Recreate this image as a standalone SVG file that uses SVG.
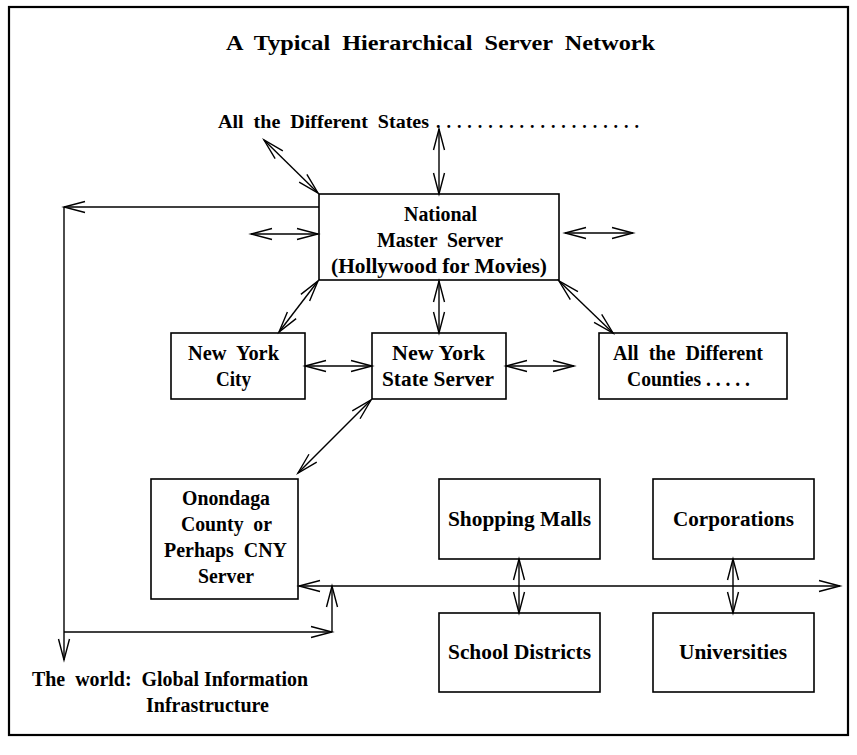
<svg xmlns="http://www.w3.org/2000/svg" width="857" height="755" viewBox="0 0 857 755">
<style>
text { font-family: "Liberation Serif", "Times New Roman", serif; font-weight: bold; fill: #000; white-space: pre; }
.t20 { font-size: 20px; }
.t18 { font-size: 18px; }
.box { fill: #fff; stroke: #000; stroke-width: 1.6; }
.c { fill: none; stroke: #000; stroke-width: 1.4; }
.a2 { marker-start: url(#ah); marker-end: url(#ah); }
.ae { marker-end: url(#ah); }
</style>
<defs>
<marker id="ah" markerUnits="userSpaceOnUse" markerWidth="30" markerHeight="20" refX="0" refY="0" viewBox="-25 -10 30 20" orient="auto-start-reverse" overflow="visible">
<path d="M-21,-5.5 L0,0 L-21,5.5" fill="none" stroke="#000" stroke-width="1.4"/>
</marker>
</defs>
<rect x="0" y="0" width="857" height="755" fill="#fff"/>
<rect id="frame" x="9" y="7" width="839" height="728" fill="none" stroke="#000" stroke-width="2.2"/>

<g id="title">
<text x="226" y="50" textLength="429" lengthAdjust="spacingAndGlyphs" style="font-size:21px" xml:space="preserve">A  Typical  Hierarchical  Server  Network</text>
</g>

<g id="states">
<text class="t18" x="218" y="128" textLength="211" lengthAdjust="spacingAndGlyphs" xml:space="preserve">All  the  Different  States</text>
<text class="t18" x="436" y="128" textLength="203" lengthAdjust="spacing">....................</text>
</g>

<g id="national">
<rect class="box" x="319" y="194" width="240" height="86"/>
<text class="t20" x="404" y="221" textLength="73" lengthAdjust="spacingAndGlyphs">National</text>
<text class="t20" x="377" y="247" textLength="126" lengthAdjust="spacingAndGlyphs" xml:space="preserve">Master  Server</text>
<text class="t20" x="331" y="273" textLength="216" lengthAdjust="spacingAndGlyphs">(Hollywood for Movies)</text>
</g>

<g id="nyc">
<rect class="box" x="171" y="333" width="134" height="66"/>
<text class="t20" x="188" y="360" textLength="91" lengthAdjust="spacingAndGlyphs" xml:space="preserve">New  York</text>
<text class="t20" x="216" y="386" textLength="35" lengthAdjust="spacingAndGlyphs">City</text>
</g>

<g id="nys">
<rect class="box" x="372" y="333" width="134" height="66"/>
<text class="t20" x="392" y="360" textLength="93" lengthAdjust="spacingAndGlyphs">New York</text>
<text class="t20" x="382" y="386" textLength="112" lengthAdjust="spacingAndGlyphs">State Server</text>
</g>

<g id="counties">
<rect class="box" x="599" y="333" width="188" height="66"/>
<text class="t20" x="613" y="360" textLength="150" lengthAdjust="spacingAndGlyphs" xml:space="preserve">All  the  Different</text>
<text class="t20" x="627" y="386" textLength="123" lengthAdjust="spacingAndGlyphs">Counties . . . . .</text>
</g>

<g id="onondaga">
<rect class="box" x="151" y="479" width="147" height="120"/>
<text class="t20" x="182" y="505" textLength="88" lengthAdjust="spacingAndGlyphs">Onondaga</text>
<text class="t20" x="181" y="531" textLength="91" lengthAdjust="spacingAndGlyphs" xml:space="preserve">County  or</text>
<text class="t20" x="164" y="557" textLength="123" lengthAdjust="spacingAndGlyphs" xml:space="preserve">Perhaps  CNY</text>
<text class="t20" x="198" y="583" textLength="56" lengthAdjust="spacingAndGlyphs">Server</text>
</g>

<g id="malls">
<rect class="box" x="439" y="479" width="161" height="80"/>
<text class="t20" x="448" y="526" textLength="143" lengthAdjust="spacingAndGlyphs">Shopping Malls</text>
</g>

<g id="corporations">
<rect class="box" x="653" y="479" width="161" height="80"/>
<text class="t20" x="673" y="526" textLength="121" lengthAdjust="spacingAndGlyphs">Corporations</text>
</g>

<g id="schools">
<rect class="box" x="439" y="613" width="161" height="79"/>
<text class="t20" x="448" y="659" textLength="143" lengthAdjust="spacingAndGlyphs">School Districts</text>
</g>

<g id="universities">
<rect class="box" x="653" y="613" width="161" height="79"/>
<text class="t20" x="679" y="659" textLength="108" lengthAdjust="spacingAndGlyphs">Universities</text>
</g>

<g id="world">
<text class="t20" x="32" y="686" textLength="276" lengthAdjust="spacingAndGlyphs" xml:space="preserve">The  world:  Global Information</text>
<text class="t20" x="146" y="712" textLength="123" lengthAdjust="spacingAndGlyphs">Infrastructure</text>
</g>

<g id="connectors">
<line class="c a2" x1="439" y1="129" x2="439" y2="194"/>
<line class="c a2" x1="264" y1="140" x2="318" y2="193"/>
<line class="c a2" x1="251" y1="234" x2="318" y2="234"/>
<line class="c a2" x1="565" y1="233" x2="633" y2="233"/>
<line class="c a2" x1="318" y1="281" x2="279" y2="332"/>
<line class="c a2" x1="439" y1="281" x2="439" y2="333"/>
<line class="c a2" x1="559" y1="281" x2="613" y2="333"/>
<line class="c a2" x1="305" y1="366" x2="372" y2="366"/>
<line class="c a2" x1="506" y1="366" x2="574" y2="366"/>
<line class="c a2" x1="371" y1="400" x2="298" y2="473"/>
<line class="c ae" x1="319" y1="207" x2="64" y2="207"/>
<line class="c ae" x1="64" y1="207" x2="64" y2="660"/>
<line class="c ae" x1="64" y1="632" x2="332" y2="632"/>
<line class="c ae" x1="332" y1="632" x2="332" y2="586"/>
<line class="c a2" x1="299" y1="586" x2="840" y2="586"/>
<line class="c a2" x1="519" y1="559" x2="519" y2="613"/>
<line class="c a2" x1="733" y1="559" x2="733" y2="613"/>
</g>
</svg>
